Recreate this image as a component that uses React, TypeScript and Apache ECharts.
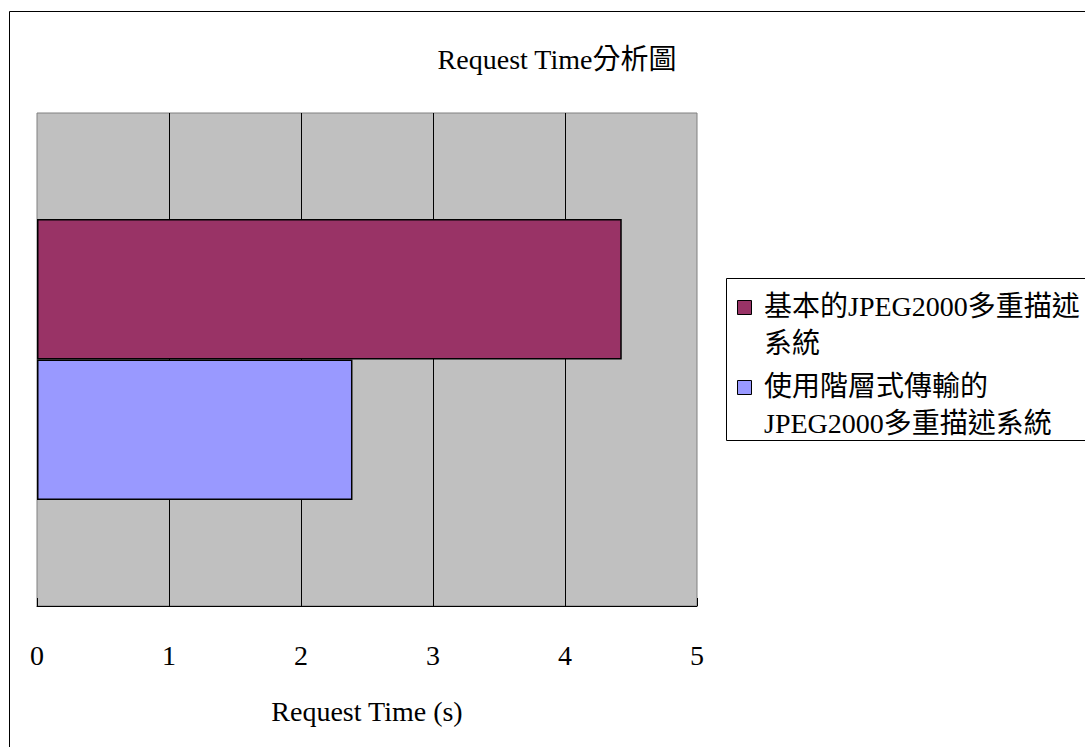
import React, { useEffect, useRef } from "react";
import * as echarts from "echarts";

// Request time per system (seconds)
const categories: string[] = [""];
const seriesNames: string[] = ["基本的JPEG2000多重描述系統", "使用階層式傳輸的JPEG2000多重描述系統"];
const legendLines: string[][] = [
  ["基本的JPEG2000多重描述", "系統"],
  ["使用階層式傳輸的", "JPEG2000多重描述系統"],
];
const basicValues: number[] = [4.43];
const layeredValues: number[] = [2.39];
const xTicks: number[] = [0, 1, 2, 3, 4, 5];

const colors = ["#993366", "#9999FF"];
const FONT = "'Liberation Serif', 'Times New Roman', 'Noto Sans CJK TC', serif";

export default function App() {
  const ref = useRef<HTMLDivElement>(null);

  useEffect(() => {
    document.body.style.margin = "0";
    const chart = echarts.init(ref.current!, null, { renderer: "svg" });

    const legendItems: any[] = [];
    const itemTops = [288, 368];
    legendLines.forEach((lines, i) => {
      const top = itemTops[i];
      legendItems.push({
        type: "rect",
        shape: { x: 737.5, y: top + 12.5, width: 14, height: 14 },
        style: { fill: colors[i], stroke: "#000", lineWidth: 1 },
      });
      legendItems.push({
        type: "text",
        x: 764,
        y: top,
        style: {
          text: lines.join("\n"),
          font: `28px ${FONT}`,
          lineHeight: 37,
          fill: "#000",
          textVerticalAlign: "top",
        },
      });
    });

    chart.setOption({
      animation: false,
      backgroundColor: "#fff",
      title: {
        text: "Request Time分析圖",
        left: 552,
        top: 40,
        textAlign: "center",
        textStyle: { fontFamily: FONT, fontSize: 28, fontWeight: "normal", color: "#000" },
      },
      grid: {
        left: 37,
        top: 113,
        width: 660,
        height: 493,
        show: true,
        backgroundColor: "#C0C0C0",
        borderColor: "#808080",
        borderWidth: 1,
      },
      xAxis: {
        type: "value",
        min: xTicks[0],
        max: xTicks[xTicks.length - 1],
        interval: 1,
        name: "Request Time (s)",
        nameLocation: "middle",
        nameGap: 91,
        nameTextStyle: { fontFamily: FONT, fontSize: 28, color: "#000" },
        axisLine: { show: true, lineStyle: { color: "#000", width: 1 } },
        axisTick: { show: true, inside: true, length: 8, lineStyle: { color: "#000" } },
        axisLabel: { margin: 35, fontFamily: FONT, fontSize: 28, color: "#000" },
        splitLine: {
          show: true,
          showMinLine: false,
          showMaxLine: false,
          lineStyle: { color: "#000", width: 1 },
        },
      },
      yAxis: {
        type: "category",
        data: categories,
        inverse: true,
        axisLine: { show: false },
        axisTick: { show: false },
        axisLabel: { show: false },
        splitLine: { show: false },
      },
      series: [
        {
          name: seriesNames[0],
          type: "bar",
          data: basicValues,
          barGap: "0%",
          barCategoryGap: "43%",
          itemStyle: { color: colors[0], borderColor: "#000", borderWidth: 1.5 },
        },
        {
          name: seriesNames[1],
          type: "bar",
          data: layeredValues,
          barGap: "0%",
          barCategoryGap: "43%",
          itemStyle: { color: colors[1], borderColor: "#000", borderWidth: 1.5 },
        },
      ],
      graphic: [
        {
          type: "rect",
          shape: { x: 9.5, y: 11.5, width: 1200, height: 800 },
          style: { fill: "none", stroke: "#000", lineWidth: 1 },
          silent: true,
        },
        {
          type: "rect",
          shape: { x: 726.5, y: 278.5, width: 500, height: 162 },
          style: { fill: "#fff", stroke: "#000", lineWidth: 1 },
          silent: true,
        },
        ...legendItems,
      ],
    });

    return () => chart.dispose();
  }, []);

  return <div ref={ref} style={{ width: 1085, height: 747 }} />;
}
